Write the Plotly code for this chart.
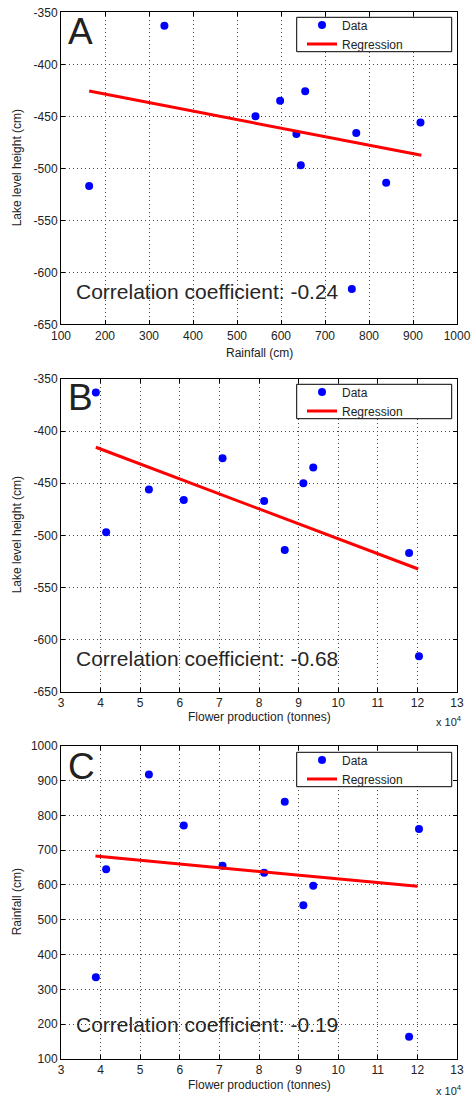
import plotly.graph_objects as go

# ---- data (one entry per year/observation) ----
rainfall_cm = [335, 542, 598, 655, 635, 645, 771, 917, 164, 839, 761]
lake_level_cm = [-363, -450, -435, -426, -467, -497, -466, -456, -517, -514, -616]
flower_prod_1e4_t = [3.88, 9.12, 9.37, 7.08, 8.13, 4.14, 6.10, 5.22, 11.79, 8.65, 12.04]

# regression line end points as drawn
reg_a_x = [164, 919]
reg_a_y = [-425.7, -487.5]
reg_b_x = [3.88, 12.02]
reg_b_y = [-415.5, -532.3]
reg_c_x = [3.87, 12.0]
reg_c_y = [683, 596]

# tick values / labels
rain_ticks = [100, 200, 300, 400, 500, 600, 700, 800, 900, 1000]
rain_ticklabels = ["100", "200", "300", "400", "500", "600", "700", "800", "900", "1000"]
lake_ticks = [-650, -600, -550, -500, -450, -400, -350]
lake_ticklabels = ["-650", "-600", "-550", "-500", "-450", "-400", "-350"]
flower_ticks = [3, 4, 5, 6, 7, 8, 9, 10, 11, 12, 13]
flower_ticklabels = ["3", "4", "5", "6", "7", "8", "9", "10", "11", "12", "13"]

corr_labels = ["Correlation coefficient: -0.24",
               "Correlation coefficient: -0.68",
               "Correlation coefficient: -0.19"]
panel_letters = ["A", "B", "C"]
x_titles = ["Rainfall (cm)", "Flower production (tonnes)", "Flower production (tonnes)"]
y_titles = ["Lake level height (cm)", "Lake level height (cm)", "Rainfall (cm)"]

OFF = 0
W, H = 471, 1097
FONT = "Liberation Sans, Arial, Helvetica, sans-serif"
TXT = "#222222"

def px_x(p):
    return (p - OFF) / W

def px_y(p):
    return 1 - (p - OFF) / H

PL, PR = 61, 457
xdom = [px_x(PL), px_x(PR)]
tops = [12.3, 379, 745.7]
bottoms = [324.3, 691.7, 1059]
ydoms = [[px_y(b), px_y(t)] for t, b in zip(tops, bottoms)]

fig = go.Figure()

panels = [
    (rainfall_cm, lake_level_cm, reg_a_x, reg_a_y),
    (flower_prod_1e4_t, lake_level_cm, reg_b_x, reg_b_y),
    (flower_prod_1e4_t, rainfall_cm, reg_c_x, reg_c_y),
]
legend_names = ["legend", "legend2", "legend3"]

for i, (xs, ys, rx, ry) in enumerate(panels):
    xa = "x" if i == 0 else f"x{i+1}"
    ya = "y" if i == 0 else f"y{i+1}"
    fig.add_trace(go.Scatter(
        x=xs, y=ys, mode="markers", name="Data",
        marker=dict(color="#0000FF", size=8, symbol="circle"),
        xaxis=xa, yaxis=ya, legend=legend_names[i]))
    fig.add_trace(go.Scatter(
        x=rx, y=ry, mode="lines", name="Regression",
        line=dict(color="#FF0000", width=3),
        xaxis=xa, yaxis=ya, legend=legend_names[i]))

axis_common = dict(
    showline=True, linecolor="black", linewidth=1, mirror="allticks",
    ticks="inside", ticklen=4, tickcolor="black", tickwidth=1,
    showgrid=True, gridcolor="#444444", gridwidth=1, griddash="1px,3px",
    zeroline=False, tickfont=dict(family=FONT, size=12, color=TXT),
    automargin=False, tickmode="array", ticklabeloverflow="allow",
)

x_specs = [
    dict(range=[100, 1000], tickvals=rain_ticks, ticktext=rain_ticklabels),
    dict(range=[3, 13], tickvals=flower_ticks, ticktext=flower_ticklabels),
    dict(range=[3, 13], tickvals=flower_ticks, ticktext=flower_ticklabels),
]
y_specs = [
    dict(range=[-650, -350], tickvals=lake_ticks, ticktext=lake_ticklabels),
    dict(range=[-650, -350], tickvals=lake_ticks, ticktext=lake_ticklabels),
    dict(range=[100, 1000], tickvals=rain_ticks, ticktext=rain_ticklabels),
]

layout_updates = {}
for i in range(3):
    xk = "xaxis" if i == 0 else f"xaxis{i+1}"
    yk = "yaxis" if i == 0 else f"yaxis{i+1}"
    ya = "y" if i == 0 else f"y{i+1}"
    xa = "x" if i == 0 else f"x{i+1}"
    layout_updates[xk] = dict(axis_common, domain=xdom, anchor=ya, **x_specs[i])
    layout_updates[yk] = dict(axis_common, domain=ydoms[i], anchor=xa, **y_specs[i])

# legend boxes (drawn as shapes) and legends inside them
box_left, box_right = 296.7, 451.7
box_tops = [17.3, 384.3, 752.3]
box_h = 34.4
shapes = []
for i, name in enumerate(legend_names):
    bt = box_tops[i]
    shapes.append(dict(
        type="rect", xref="paper", yref="paper",
        x0=px_x(box_left), x1=px_x(box_right), y0=px_y(bt + box_h), y1=px_y(bt),
        line=dict(color="black", width=1), fillcolor="white", layer="above"))
    center = bt + box_h / 2
    layout_updates[name] = dict(
        x=px_x(302), y=px_y(center - 24), xanchor="left", yanchor="top",
        bgcolor="rgba(0,0,0,0)", borderwidth=0,
        font=dict(family=FONT, size=12, color=TXT),
        tracegroupgap=0, itemwidth=30,
    )

fig.update_layout(**layout_updates)

annotations = []
letter_centers = [31.5, 398, 766]
corr_centers = [291.7, 658.3, 1024]
xtitle_centers = [353, 716.7, 1085]
for i in range(3):
    annotations.append(dict(
        x=px_x(66), y=px_y(letter_centers[i]), xref="paper", yref="paper",
        text=panel_letters[i], showarrow=False, xanchor="left", yanchor="middle",
        font=dict(family=FONT, size=37, color=TXT)))
    annotations.append(dict(
        x=px_x(74), y=px_y(corr_centers[i]), xref="paper", yref="paper",
        text=corr_labels[i], showarrow=False, xanchor="left", yanchor="middle",
        font=dict(family=FONT, size=21, color="#262626")))
    annotations.append(dict(
        x=px_x((PL + PR) / 2), y=px_y(xtitle_centers[i]), xref="paper", yref="paper",
        text=x_titles[i], showarrow=False, xanchor="center", yanchor="middle",
        font=dict(family=FONT, size=12, color=TXT)))
    annotations.append(dict(
        x=px_x(17), y=px_y((tops[i] + bottoms[i]) / 2), xref="paper", yref="paper",
        text=y_titles[i], showarrow=False, textangle=-90,
        xanchor="center", yanchor="middle",
        font=dict(family=FONT, size=12, color=TXT)))

for yc in [721, 1090]:
    annotations.append(dict(
        x=px_x(464), y=px_y(yc), xref="paper", yref="paper",
        text="x 10<sup>4</sup>", showarrow=False, xanchor="right", yanchor="middle",
        font=dict(family=FONT, size=11, color=TXT)))

fig.update_layout(
    width=W, height=H,
    margin=dict(l=0, r=0, t=0, b=0, autoexpand=False),
    paper_bgcolor="white", plot_bgcolor="white",
    annotations=annotations, shapes=shapes,
    showlegend=True,
)

fig.write_html(
    "out.html",
    config={"displayModeBar": False},
    post_script="document.body.style.margin='0';document.body.style.overflow='hidden';",
)
